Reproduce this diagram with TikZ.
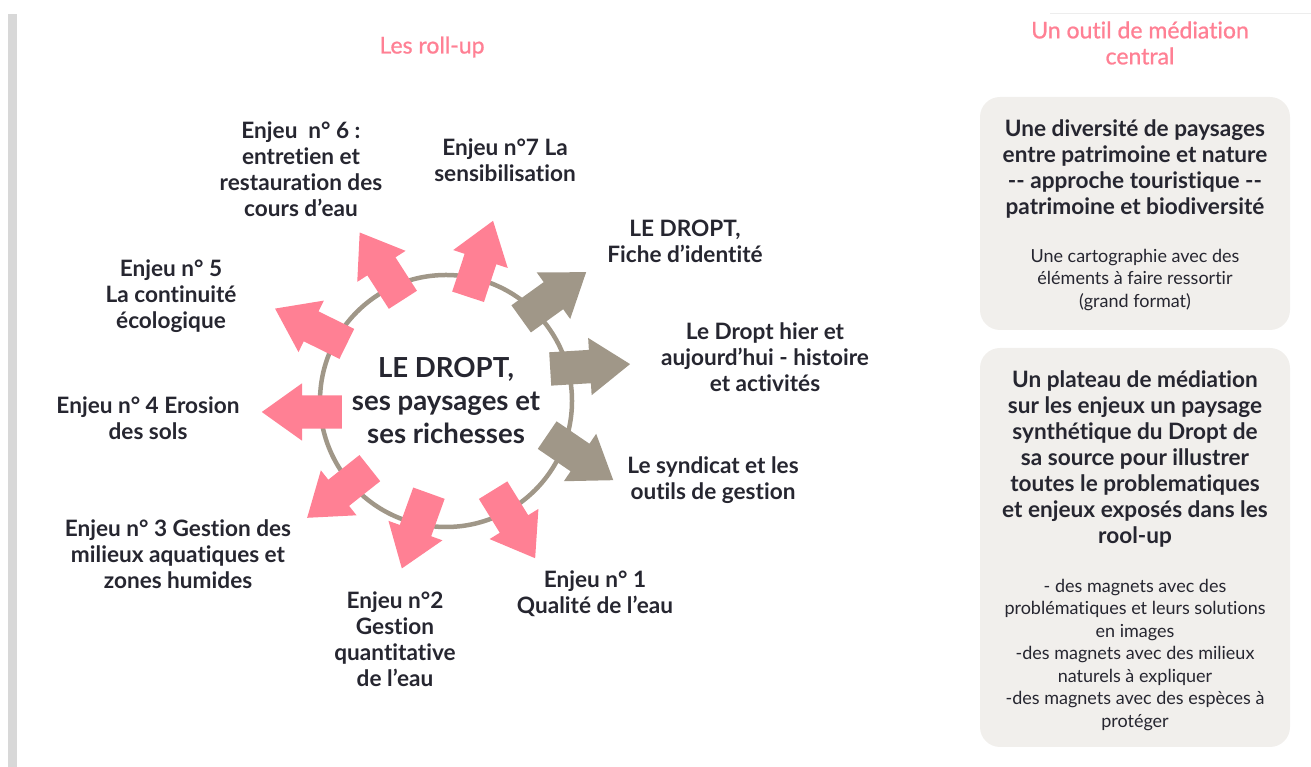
\documentclass[tikz,border=0pt]{standalone}
\usepackage{fontspec}
\setsansfont{Lato}[Ligatures={TeX,NoCommon}]
\newfontfamily\titrefont{Lato}[Ligatures={TeX,NoCommon},FakeBold=0.9]
\definecolor{droptpink}{RGB}{255,128,148}
\definecolor{droptgrey}{RGB}{160,151,136}
\definecolor{droptcard}{RGB}{241,239,236}
\definecolor{droptink}{RGB}{38,38,48}
\definecolor{droptbar}{RGB}{216,216,216}
\tikzset{every picture/.style={/utils/exec={\sffamily}}}
\usetikzlibrary{calc}
\usetikzlibrary{positioning}
\usetikzlibrary{shapes.arrows,backgrounds,fit}

\begin{document}
\begin{tikzpicture}[x=1pt, y=1pt,
    enjeu/.style={align=center, text=droptink, font=\bfseries\fontsize{22.6}{26}\selectfont},
    titre/.style={align=center, text=droptpink, font=\titrefont\fontsize{23}{26}\selectfont},
    detail/.style={align=center, text=droptink, font=\fontsize{18}{22.5}\selectfont},
    pousse/.style={single arrow, draw=none, fill=droptpink, anchor=tail,
      minimum height=80pt, minimum width=57pt, inner xsep=0pt, inner ysep=16.5pt,
      single arrow head extend=12pt, single arrow tip angle=71},
    pousseg/.style={pousse, fill=droptgrey}]
  \useasboundingbox (0,0) rectangle (1311,767);
  \fill [droptbar] (8,0) rectangle (17,753);
  \draw [droptbar!45, line width=1pt] (1050,753) -- (1311,753);

  \node [titre] (roll) at (432,720) {Les roll-up};
  \node [titre] (media) at (1140,724) {Un outil de médiation\\central};

  % the wheel
  \node [circle, draw=droptgrey, line width=4.5pt, minimum size=252pt, align=center,
    text=droptink, font=\bfseries\fontsize{27.6}{33}\selectfont] (c) at (446,366)
    {LE DROPT,\\ses paysages et\\ses richesses};

  \node [pousse, rotate=122.7] (a6) at (403,467) {};
  \node [pousse, rotate=71.8] (a7) at (468,470) {};
  \node [pousseg, rotate=35.7] (g1) at (521,448) {};
  \node [pousseg, rotate=3.5] (g2) at (550,398) {};
  \node [pousseg, rotate=-34.3] (g3) at (547,332) {};
  \node [pousse, rotate=-58.3] (a1) at (493,277) {};
  \node [pousse, rotate=-109.8] (a2) at (429,274) {};
  \node [pousse, rotate=-141.6] (a3) at (370,299) {};
  \node [pousse, rotate=180] (a4) at (342,355) {};
  \node [pousse, rotate=153.8] (a5) at (347,423) {};

  \node [enjeu] (l6) at (301,598) {Enjeu\ \ n° 6 :\\entretien et\\restauration des\\cours d’eau};
  \node [enjeu] (l7) at (505,607) {Enjeu n°7 La\\sensibilisation};
  \node [enjeu] (lg1) at (685,526) {LE DROPT,\\Fiche d’identité};
  \node [enjeu] (lg2) at (765,410) {Le Dropt hier et\\aujourd’hui - histoire\\et activités};
  \node [enjeu] (lg3) at (713,287) {Le syndicat et les\\outils de gestion};
  \node [enjeu] (l1) at (595,173) {Enjeu n° 1\\Qualité de l’eau};
  \node [enjeu] (l2) at (395,128) {Enjeu n°2\\Gestion\\quantitative\\de l’eau};
  \node [enjeu] (l3) at (178,213) {Enjeu n° 3 Gestion des\\milieux aquatiques et\\zones humides};
  \node [enjeu] (l4) at (148,349) {Enjeu n° 4 Erosion\\des sols};
  \node [enjeu] (l5) at (171,471) {Enjeu n° 5\\La continuité\\écologique};

  % right column
  \coordinate (b1a) at (980,670);
  \coordinate (b1b) at (1290,437);
  \coordinate (b2a) at (980,419);
  \coordinate (b2b) at (1290,20);
  \node [enjeu] (t1) at (1135,598) {Une diversité de paysages\\entre patrimoine et nature\\-{}- approche touristique -{}-\\patrimoine et biodiversité};
  \node [detail] (d1) at (1135,487) {Une cartographie avec des\\éléments à faire ressortir\\(grand format)};
  \node [enjeu] (t2) at (1135,308) {Un plateau de médiation\\sur les enjeux un paysage\\synthétique du Dropt de\\sa source pour illustrer\\toutes le problematiques\\et enjeux exposés dans les\\rool-up};
  \node [detail] (d2) at (1135,112) {- des magnets avec des\\problématiques et leurs solutions\\en images\\-des magnets avec des milieux\\naturels à expliquer\\-des magnets avec des espèces à\\protéger};

  \begin{scope}[on background layer,every node/.style={fill=droptcard,rounded corners=20pt,inner sep=0pt}]
    % grey cards
    \node [fit=(b1a)(b1b)] (card1) {};
    \node [fit=(b2a)(b2b)] (card2) {};
  \end{scope}
\end{tikzpicture}
\end{document}
